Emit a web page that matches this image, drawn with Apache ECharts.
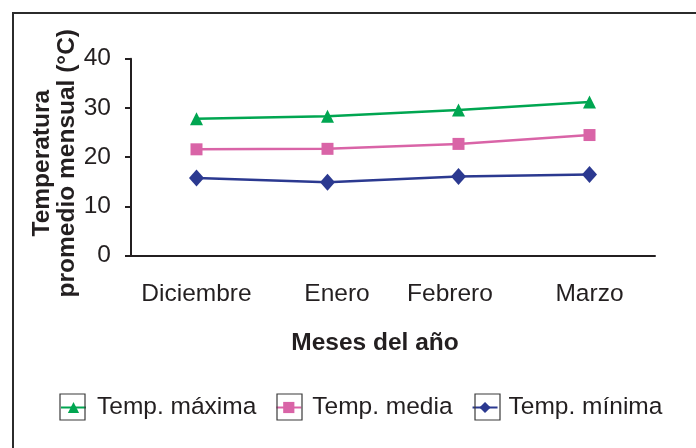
<!DOCTYPE html>
<html>
<head>
<meta charset="utf-8">
<script src="https://cdn.jsdelivr.net/npm/echarts@6/dist/echarts.min.js"></script>
<style>
  html, body { margin: 0; padding: 0; background: #fff; }
</style>
</head>
<body>
<div id="main" style="width: 696px; height: 448px"></div>
<script>
// meses y temperaturas (°C)
var meses = ['Diciembre', 'Enero', 'Febrero', 'Marzo']
var tempMaxima = [27.8, 28.3, 29.6, 31.2]
var tempMedia = [21.6, 21.7, 22.7, 24.5]
var tempMinima = [15.8, 14.9, 16.1, 16.5]

var txt = '#231f20'
var font = 'Liberation Sans'
var fs = 24.5

var myChart = echarts.init(document.getElementById('main'))

// marco de cada icono de la leyenda (como en Excel)
function marco(x) {
  return { type: 'rect', shape: { x: x, y: 394, width: 25, height: 26 }, style: { fill: null, stroke: '#3a3a3a', lineWidth: 1.2 }, silent: true, z: 100 }
}

var option = {
  backgroundColor: '#fff',
  animation: false,
  grid: { left: 131, right: 41, top: 58.7, bottom: 192.3 },
  legend: {
    left: 55,
    top: 390,
    itemWidth: 25,
    itemHeight: 14,
    itemGap: 19,
    textStyle: { fontFamily: font, fontSize: fs, color: txt, padding: [0, 0, 0, 6] },
    data: ['Temp. máxima', 'Temp. media', 'Temp. mínima']
  },
  xAxis: {
    type: 'category',
    data: meses,
    boundaryGap: true,
    axisLine: { lineStyle: { color: '#231f20', width: 2 } },
    axisTick: { length: 7, lineStyle: { color: '#231f20', width: 2 } },
    axisLabel: {
      interval: 0,
      margin: 26,
      fontFamily: font,
      fontSize: fs,
      color: txt,
      // Excel deja algunas etiquetas un poco corridas
      formatter: function (v) {
        if (v === 'Enero') return '{r|' + v + '}'
        if (v === 'Febrero') return '{l|' + v + '}'
        return v
      },
      rich: {
        r: { fontFamily: font, fontSize: fs, color: txt, padding: [0, 0, 0, 19] },
        l: { fontFamily: font, fontSize: fs, color: txt, padding: [0, 17, 0, 0] }
      }
    },
    name: 'Meses del año',
    nameLocation: 'middle',
    nameGap: 75,
    nameTextStyle: { fontFamily: font, fontSize: fs, fontWeight: 'bold', color: txt, padding: [0, 36, 0, 0] }
  },
  yAxis: {
    type: 'value',
    min: 0,
    max: 40,
    interval: 10,
    splitLine: { show: false },
    axisLine: { show: true, lineStyle: { color: '#231f20', width: 2 } },
    axisTick: { show: true, length: 6, lineStyle: { color: '#231f20', width: 2 } },
    axisLabel: { margin: 20, fontFamily: font, fontSize: fs, color: txt },
    name: 'Temperatura\npromedio mensual (°C)',
    nameLocation: 'middle',
    nameGap: 51,
    nameMoveOverlap: false,
    nameTextStyle: { fontFamily: font, fontSize: fs, fontWeight: 'bold', color: txt, lineHeight: 25, padding: [0, 12, 0, 0] }
  },
  graphic: [
    { type: 'rect', shape: { x: 13, y: 13, width: 720, height: 460 }, style: { fill: null, stroke: '#2b2b2b', lineWidth: 2 }, silent: true },
    marco(60), marco(277), marco(475)
  ],
  series: [
    {
      name: 'Temp. máxima',
      type: 'line',
      data: tempMaxima,
      symbol: 'triangle',
      symbolSize: 13,
      color: '#00a651',
      lineStyle: { width: 2.5 }
    },
    {
      name: 'Temp. media',
      type: 'line',
      data: tempMedia,
      symbol: 'rect',
      symbolSize: 12,
      color: '#d964a7',
      lineStyle: { width: 2.5 }
    },
    {
      name: 'Temp. mínima',
      type: 'line',
      data: tempMinima,
      symbol: 'diamond',
      symbolSize: [15, 17],
      color: '#2b3990',
      lineStyle: { width: 2.5 }
    }
  ]
}

myChart.setOption(option)
</script>
</body>
</html>
